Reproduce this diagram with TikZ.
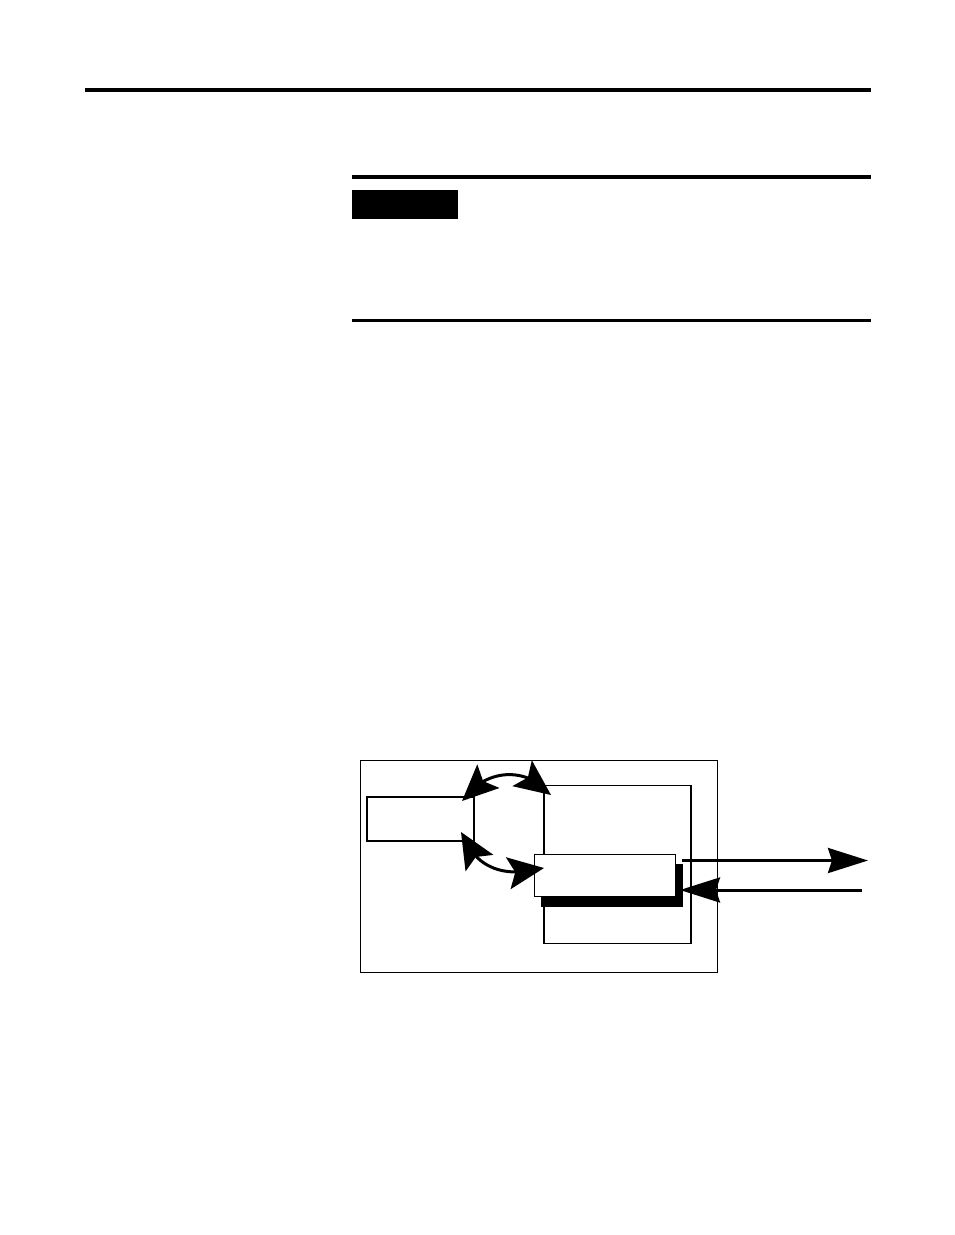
\documentclass[tikz,border=0pt]{standalone}
\usetikzlibrary{arrows.meta,bending}
\begin{document}
\begin{tikzpicture}[x=1pt,y=-1pt,
  rulebar/.style={fill=black,draw=none},
  boxline/.style={draw=black,line width=1.5pt,fill=white},
  bigarrow/.style={line width=3pt,draw=black,line cap=round,
     {Stealth[length=36pt,width=32pt,inset=7pt,flex]}-{Stealth[length=36pt,width=32pt,inset=7pt,flex]}},
  onearrow/.style={line width=3pt,draw=black,
     -{Stealth[length=40pt,width=25pt,inset=4pt]}}]
\useasboundingbox (0,0) rectangle (954,1235);
% page rules
\fill[rulebar] (85,88) rectangle (871,92);
\fill[rulebar] (352,175) rectangle (871,179);
\fill[rulebar] (352,190) rectangle (458,219);
\fill[rulebar] (352,319) rectangle (871,322);
% diagram
\node[boxline,line width=1.2pt,minimum width=357pt,minimum height=212pt,anchor=north west,inner sep=0pt] (outer) at (360,760) {};
\node[boxline,minimum width=107pt,minimum height=44pt,anchor=north west,inner sep=0pt] (left) at (366,796) {};
\node[boxline,minimum width=147pt,minimum height=158pt,anchor=north west,inner sep=0pt] (tall) at (543,784.5) {};
\node[fill=black,draw=none,minimum width=142pt,minimum height=43pt,anchor=north west,inner sep=0pt] (shadow) at (541,864) {};
\node[boxline,minimum width=141pt,minimum height=42pt,anchor=north west,inner sep=0pt] (inner) at (533.5,853.5) {};
% curved double arrows
\coordinate (a1) at (462,801);
\coordinate (a2) at (551,795);
\coordinate (b1) at (461,832);
\coordinate (b2) at (544,868);
\draw[bigarrow] (a1) .. controls (484,769) and (526,765) .. (a2);
\draw[bigarrow] (b1) .. controls (476,870) and (505,878) .. (b2);
% right arrows
\coordinate (o1) at (682,860.5);
\coordinate (o2) at (868,860.5);
\coordinate (i1) at (862,890);
\coordinate (i2) at (680,890);
\draw[onearrow] (o1) -- (o2);
\draw[onearrow] (i1) -- (i2);
\end{tikzpicture}
\end{document}
